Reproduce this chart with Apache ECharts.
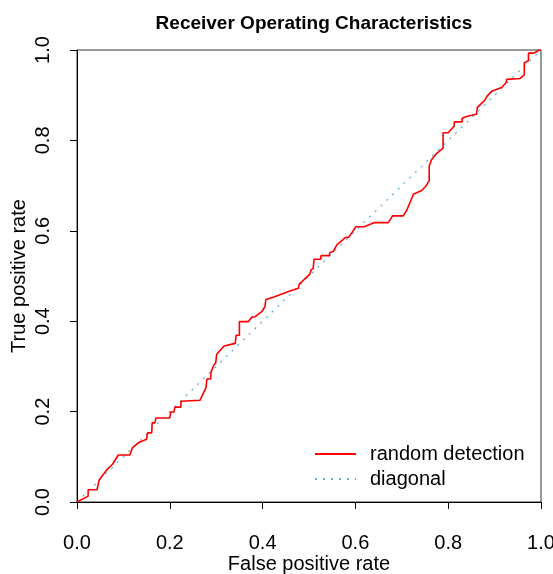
<!DOCTYPE html>
<html>
<head>
<meta charset="utf-8">
<script src="https://cdn.jsdelivr.net/npm/echarts@6/dist/echarts.min.js"></script>
<style>
  html, body { margin: 0; padding: 0; background: #fff; }
  #main { width: 553px; height: 574px; }
</style>
</head>
<body>
<div id="main"></div>
<script>
// ROC curve points
var fpr = [0, 0.024, 0.024, 0.043, 0.048, 0.064, 0.077, 0.089, 0.114, 0.119, 0.132, 0.150, 0.152, 0.161,
  0.162, 0.168, 0.170, 0.200, 0.202, 0.209, 0.211, 0.224, 0.224, 0.265, 0.278, 0.280, 0.288, 0.289,
  0.295, 0.299, 0.301, 0.317, 0.341, 0.343, 0.350, 0.350, 0.369, 0.377, 0.384, 0.398, 0.405, 0.407,
  0.423, 0.459, 0.477, 0.479, 0.502, 0.504, 0.509, 0.511, 0.525, 0.526, 0.544, 0.545, 0.552, 0.560,
  0.578, 0.586, 0.601, 0.619, 0.640, 0.671, 0.680, 0.703, 0.711, 0.725, 0.732, 0.743, 0.752, 0.759,
  0.759, 0.764, 0.774, 0.789, 0.789, 0.800, 0.813, 0.813, 0.830, 0.830, 0.843, 0.861, 0.863, 0.879,
  0.884, 0.894, 0.905, 0.915, 0.925, 0.926, 0.955, 0.964, 0.964, 0.973, 0.973, 0.985, 0.996, 1];
var tpr = [0, 0.013, 0.027, 0.027, 0.049, 0.071, 0.084, 0.104, 0.104, 0.119, 0.131, 0.139, 0.153, 0.153,
  0.175, 0.175, 0.186, 0.186, 0.199, 0.199, 0.210, 0.210, 0.223, 0.225, 0.253, 0.272, 0.272, 0.288,
  0.303, 0.308, 0.327, 0.345, 0.351, 0.369, 0.369, 0.399, 0.399, 0.409, 0.410, 0.421, 0.432, 0.448,
  0.453, 0.467, 0.473, 0.482, 0.504, 0.513, 0.517, 0.537, 0.537, 0.545, 0.545, 0.552, 0.554, 0.569,
  0.585, 0.586, 0.609, 0.609, 0.618, 0.618, 0.633, 0.633, 0.646, 0.681, 0.684, 0.689, 0.699, 0.711,
  0.743, 0.757, 0.770, 0.783, 0.817, 0.817, 0.832, 0.841, 0.841, 0.849, 0.854, 0.858, 0.873, 0.889,
  0.898, 0.909, 0.913, 0.917, 0.928, 0.935, 0.937, 0.945, 0.972, 0.976, 0.993, 0.993, 1.0, 1];
var diagX = [0, 1];
var diagY = [0, 1];
var axisTicks = [0, 0.2, 0.4, 0.6, 0.8, 1.0];

var rocData = fpr.map(function (x, i) { return [x, tpr[i]]; });
var diagData = diagX.map(function (x, i) { return [x, diagY[i]]; });

var font = 'Liberation Sans, Arial, sans-serif';
var chart = echarts.init(document.getElementById('main'));

function axisBase(name, gap, rotate) {
  return {
    type: 'value',
    min: axisTicks[0],
    max: axisTicks[axisTicks.length - 1],
    interval: 0.2,
    name: name,
    nameLocation: 'middle',
    nameGap: gap,
    nameRotate: rotate,
    nameMoveOverlap: false,
    nameTextStyle: { color: '#000', fontSize: 20, fontFamily: font },
    axisLine: { show: true, onZero: false, lineStyle: { color: '#000', width: 1 } },
    axisTick: { show: true, inside: false, length: 7, lineStyle: { color: '#000' } },
    splitLine: { show: false },
    axisLabel: {
      color: '#000', fontSize: 20, fontFamily: font,
      formatter: function (v) { return v.toFixed(1); }
    }
  };
}

var xAxis = axisBase('False positive rate', 52, 0);
xAxis.axisLabel.margin = 31;
var yAxis = axisBase('True positive rate', 48, 90);
yAxis.axisLabel.rotate = 90;
yAxis.axisLabel.margin = 24;

chart.setOption({
  animation: false,
  backgroundColor: '#fff',
  title: {
    text: 'Receiver Operating Characteristics',
    left: 309,
    top: 9,
    textAlign: 'center',
    textStyle: { color: '#000', fontSize: 19, fontWeight: 'bold', fontFamily: font }
  },
  grid: {
    left: 77, right: 12, top: 50, bottom: 72,
    outerBoundsMode: 'none',
    containLabel: false,
    show: true, borderColor: '#333', borderWidth: 1, backgroundColor: 'transparent'
  },
  legend: {
    orient: 'vertical',
    left: 309,
    top: 439,
    itemWidth: 41,
    itemHeight: 14,
    itemGap: 5,
    itemStyle: { opacity: 0 },
    textStyle: { color: '#000', fontSize: 20, fontFamily: font, padding: [0, 0, 0, 9] },
    data: ['random detection', 'diagonal']
  },
  xAxis: xAxis,
  yAxis: yAxis,
  series: [
    {
      name: 'random detection',
      type: 'line',
      data: rocData,
      symbol: 'none',
      lineStyle: { color: '#ff0000', width: 1.6 },
      z: 3
    },
    {
      name: 'diagonal',
      type: 'line',
      data: diagData,
      symbol: 'none',
      lineStyle: { color: '#5fa8d8', width: 1.2, type: [2, 6] },
      z: 2
    }
  ]
});
</script>
</body>
</html>
